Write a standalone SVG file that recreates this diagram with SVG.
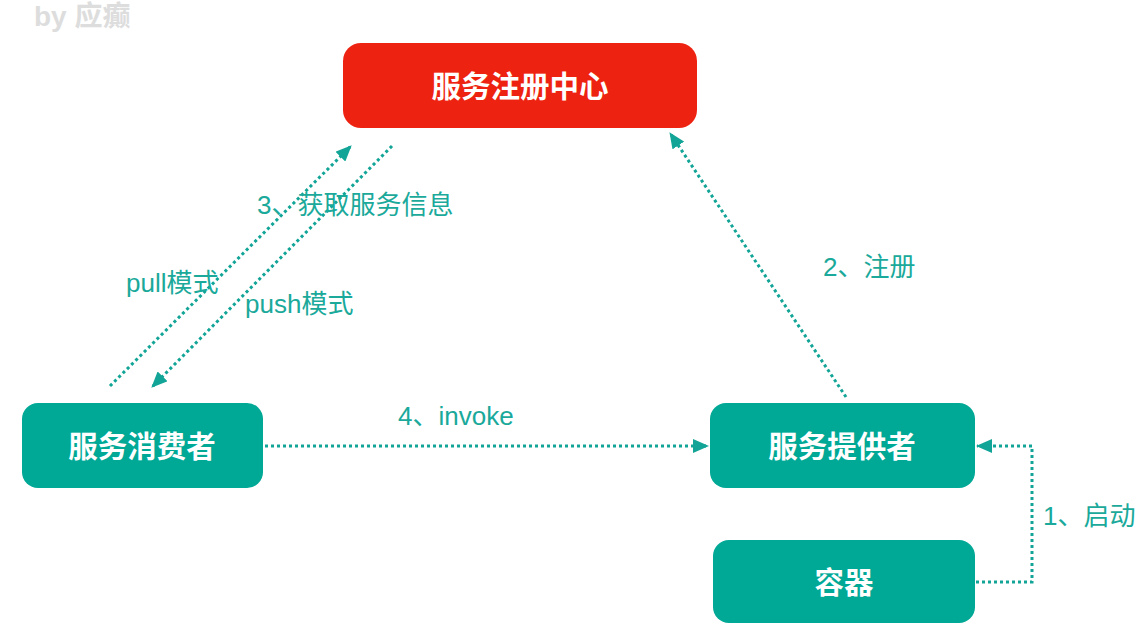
<svg xmlns="http://www.w3.org/2000/svg" width="1148" height="638" viewBox="0 0 1148 638">
<defs>
<style>
.box{fill:#00A896}
.red{fill:#EE2211}
.nt{font-family:"Liberation Sans","Noto Sans CJK SC",sans-serif;font-weight:bold;font-size:29.5px;fill:#fff;text-anchor:middle;dominant-baseline:central}
.lb{font-family:"Liberation Sans","Noto Sans CJK SC",sans-serif;font-size:26px;fill:#1AA99A}
.cn{fill:none;stroke:#12A597;stroke-width:3;stroke-dasharray:3 3}
.wm{font-family:"Liberation Sans","Noto Sans CJK SC",sans-serif;font-weight:bold;font-size:28px;fill:#DDDDDD}
</style>
<marker id="ah" viewBox="0 0 16 14" refX="15" refY="7" markerWidth="16" markerHeight="14" markerUnits="userSpaceOnUse" orient="auto">
<path d="M0,0 L16,7 L0,14 Z" fill="#12A597"/>
</marker>
</defs>
<rect width="1148" height="638" fill="#fff"/>
<text class="wm" x="34" y="26">by 应癫</text>
<g id="registry"><rect class="red" x="343" y="43" width="354" height="85" rx="18"/><text class="nt" x="520" y="86">服务注册中心</text></g>
<g id="consumer"><rect class="box" x="22" y="403" width="241" height="85" rx="16"/><text class="nt" x="142" y="446">服务消费者</text></g>
<g id="provider"><rect class="box" x="710" y="403" width="265" height="85" rx="16"/><text class="nt" x="842" y="446">服务提供者</text></g>
<g id="container"><rect class="box" x="713" y="540" width="262" height="83" rx="16"/><text class="nt" x="844" y="582">容器</text></g>
<g id="connectors">
<path class="cn" d="M110,386 L351,146" marker-end="url(#ah)"/>
<path class="cn" d="M392,146 L152,387" marker-end="url(#ah)"/>
<path class="cn" d="M846,397 L670,133" marker-end="url(#ah)"/>
<path class="cn" d="M265,446 L708,446" marker-end="url(#ah)"/>
<path class="cn" d="M976,582 L1032,582 L1032,446 L977,446" marker-end="url(#ah)"/>
</g>
<g id="labels">
<text class="lb" x="257" y="214">3、获取服务信息</text>
<text class="lb" x="126" y="292">pull模式</text>
<text class="lb" x="245" y="313">push模式</text>
<text class="lb" x="823" y="276">2、注册</text>
<text class="lb" x="398" y="425">4、invoke</text>
<text class="lb" x="1043" y="525">1、启动</text>
</g>
</svg>
